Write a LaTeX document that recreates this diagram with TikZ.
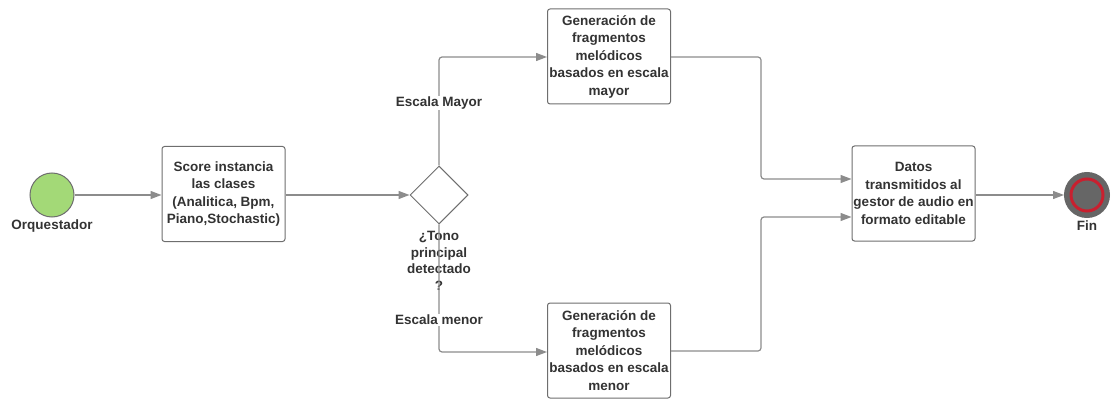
\documentclass[tikz,border=0pt]{standalone}
\usepackage{fontspec}
\setmainfont{Liberation Sans}
\usetikzlibrary{arrows.meta,shapes.geometric}
\definecolor{linegray}{HTML}{8C8C8C}
\definecolor{boxgray}{HTML}{6E6E6E}
\definecolor{txt}{HTML}{333333}
\definecolor{startgreen}{HTML}{A3D977}
\definecolor{endgray}{HTML}{666666}
\definecolor{endred}{HTML}{C8202F}
\tikzset{
  procbox/.style={draw=boxgray, line width=1pt, rounded corners=2.5pt, fill=white,
    minimum width=123pt, minimum height=95pt, align=center,
    inner sep=0pt, font=\bfseries\fontsize{13.5}{17.5}\selectfont, text=txt},
  lbl/.style={font=\bfseries\fontsize{13.5}{17}\selectfont, text=txt, align=center, inner sep=1pt},
  conn/.style={draw=linegray, line width=1.2pt, rounded corners=3pt},
  arr/.style={conn, -{Triangle[length=11pt,width=8pt]}},
}
\begin{document}
\begin{tikzpicture}[x=1pt,y=-1pt]
\useasboundingbox (0,0) rectangle (1112,401);
% start
\node (start) [circle, draw=boxgray, line width=1pt, fill=startgreen, minimum size=44pt, inner sep=0pt] at (52,195) {};
\node (startlbl) [lbl] at (52,226) {Orquestador};
% score box
\node (score) [procbox] at (223.5,194) {Score instancia\\las clases\\(Analitica, Bpm,\\Piano,Stochastic)};
% diamond
\node (dec) [diamond, draw=boxgray, line width=1pt, fill=white, minimum width=58pt, minimum height=58pt, inner sep=0pt] at (439,195) {};
\node (declbl) [lbl, font=\bfseries\fontsize{13.5}{16.5}\selectfont] at (439,261) {¿Tono\\principal\\detectado\\?};
% upper/lower boxes
\node (maj) [procbox] at (609,56.5) {Generación de\\fragmentos\\melódicos\\basados en escala\\mayor};
\node (min) [procbox] at (609,350.5) {Generación de\\fragmentos\\melódicos\\basados en escala\\menor};
% datos
\node (datos) [procbox] at (913.5,193.5) {Datos\\transmitidos al\\gestor de audio en\\formato editable};
% end
\node (fin) [circle, draw=endgray, line width=5pt, fill=endgray, minimum size=41pt, inner sep=0pt] at (1087,195) {};
\node (finring) [circle, draw=endred, line width=3pt, minimum size=32pt, inner sep=0pt] at (1087,195) {};
\node (finlbl) [lbl] at (1087,226) {Fin};
% connectors
\draw[arr] (start.east) -- (score.west |- start.east);
\draw[arr] (score.east |- dec.west) -- (dec.west);
\coordinate (upc) at (439,57);
\coordinate (loc) at (439,352);
\draw[arr] (dec.north) -- (upc) -- (maj.west |- upc);
\draw[arr] (dec.south) -- (loc) -- (min.west |- loc);
\node (lblmaj) [lbl, fill=white] at (439,103) {Escala Mayor};
\node (lblmin) [lbl, fill=white] at (439,320) {Escala menor};
\coordinate (mr) at (761,57);
\coordinate (lr) at (761,351);
\coordinate (din1) at (852,179);
\coordinate (din2) at (852,217);
\draw[arr] (maj.east |- mr) -- (mr) -- (mr |- din1) -- (datos.west |- din1);
\draw[arr] (min.east |- lr) -- (lr) -- (lr |- din2) -- (datos.west |- din2);
\draw[arr] (datos.east |- fin.west) -- (fin.west);
\end{tikzpicture}
\end{document}
